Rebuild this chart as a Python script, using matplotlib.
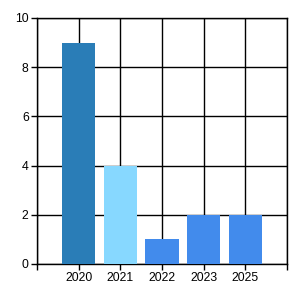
import matplotlib.pyplot as plt

# data
years = ["2020", "2021", "2022", "2023", "2025"]
counts = [9, 4, 1, 2, 2]
colors = ["#2A7DB7", "#87D8FF", "#428BEC", "#428BEC", "#428BEC"]

plt.rcParams['font.family'] = ['Liberation Sans', 'DejaVu Sans']

fig = plt.figure(figsize=(3, 3), dpi=100)
ax = fig.add_axes([37 / 300, 36 / 300, 250 / 300, 246 / 300])

pos = list(range(len(years)))
ax.bar(pos, counts, width=0.8, color=colors, zorder=3)

ax.set_xlim(-1, 5)
ax.set_ylim(0, 10)
ax.set_xticks(pos + [-1, 5])
ax.set_xticklabels(years + ["", ""])
ax.set_yticks([0, 2, 4, 6, 8, 10])

ax.grid(True, color="black", linewidth=1, zorder=0)
for s in ax.spines.values():
    s.set_color("black")
    s.set_linewidth(1)

ax.tick_params(axis="both", length=4, width=1, color="black", labelsize=8.8, pad=2)

fig.savefig("out.png", dpi=100)
